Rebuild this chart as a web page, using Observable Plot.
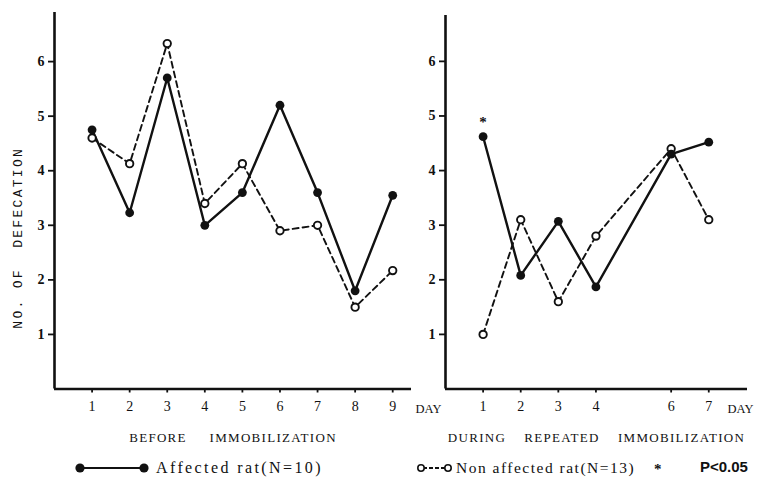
<!DOCTYPE html>
<html>
<head>
<meta charset="utf-8">
<script src="https://cdn.jsdelivr.net/npm/d3@7"></script>
<script src="https://cdn.jsdelivr.net/npm/@observablehq/plot@0.6"></script>
<style>
  body { margin: 0; background: #fff; }
  #chart { position: relative; width: 782px; height: 485px; overflow: hidden; background: #fff; }
  #chart > svg { position: absolute; overflow: visible; }
</style>
</head>
<body>
<div id="chart"></div>
<script>
// Daily defecation counts, before and during repeated immobilization
const beforeDays = [1, 2, 3, 4, 5, 6, 7, 8, 9];
const beforeAffected = [4.75, 3.23, 5.7, 3.0, 3.6, 5.2, 3.6, 1.8, 3.55];
const beforeNonAffected = [4.6, 4.13, 6.33, 3.4, 4.13, 2.9, 3.0, 1.5, 2.17];

const duringDays = [1, 2, 3, 4, 6, 7];
const duringAffected = [4.62, 2.08, 3.07, 1.87, 4.3, 4.52];
const duringNonAffected = [1.0, 3.1, 1.6, 2.8, 4.4, 3.1];
const duringSignificant = [1];

const yTicks = [1, 2, 3, 4, 5, 6];
const beforeTicks = [1, 2, 3, 4, 5, 6, 7, 8, 9];
const duringTicks = [1, 2, 3, 4, 6, 7];

const nb = n => "\u00a0".repeat(n);
const yTitle = "NO." + nb(1) + "OF" + nb(2) + "DEFECATION";
const beforeLabel = "BEFORE" + nb(5) + "IMMOBILIZATION";
const duringLabel = "DURING" + nb(4) + "REPEATED" + nb(4) + "IMMOBILIZATION";
const affectedName = "Affected rat(N=10)";
const nonAffectedName = "Non affected rat(N=13)";
const sigNote = "P<0.05";

const serif = "'Liberation Serif', 'DejaVu Serif', serif";
const mono = "'Liberation Mono', 'DejaVu Sans Mono', monospace";

function panel({days, affected, nonAffected, starDays, ticks, xMax, yMax,
                left, width, marginLeft, marginRight, marginTop,
                dayDx, groupLabel, showTitle}) {
  const rows = days.map((d, i) => ({day: d, affected: affected[i], non: nonAffected[i]}));
  const stars = rows.filter(r => starDays.includes(r.day));
  const marks = [
    Plot.axisX({ticks, tickSize: 4, tickPadding: 8, fontSize: 14, fontFamily: serif,
                tickFormat: d => String(d), label: null, strokeWidth: 1.8}),
    Plot.axisY({ticks: yTicks, tickSize: 6, tickPadding: 4, fontSize: 14, fontWeight: "bold",
                fontFamily: serif, tickFormat: d => String(d), label: null, strokeWidth: 1.8}),
    Plot.ruleX([0], {stroke: "#111", strokeWidth: 2.6}),
    Plot.ruleY([0], {stroke: "#111", strokeWidth: 2.6}),
    Plot.line(rows, {x: "day", y: "non", stroke: "#111", strokeWidth: 1.9, strokeDasharray: "6,4"}),
    Plot.line(rows, {x: "day", y: "affected", stroke: "#111", strokeWidth: 2.4}),
    Plot.dot(rows, {x: "day", y: "non", r: 3.7, fill: "white", stroke: "#111", strokeWidth: 1.9}),
    Plot.dot(rows, {x: "day", y: "affected", r: 4.4, fill: "#111"}),
    Plot.text(stars, {x: "day", y: "affected", text: () => "*", dy: -15, fontSize: 15,
                      fontWeight: "bold", fontFamily: serif}),
    Plot.text(["DAY"], {text: d => d, frameAnchor: "bottom-right", textAnchor: "start",
                        lineAnchor: "middle", dx: dayDx, dy: 20, fontSize: 12.5, fontFamily: serif}),
    Plot.text([groupLabel], {text: d => d, frameAnchor: "bottom", textAnchor: "middle",
                             lineAnchor: "middle", dy: 49, fontSize: 13, fontFamily: serif})
  ];
  if (showTitle) {
    marks.push(Plot.text([yTitle], {text: d => d, frameAnchor: "left", textAnchor: "middle",
                                    rotate: -90, lineAnchor: "middle", dx: -37, dy: 37,
                                    fontSize: 13, fontFamily: mono}));
  }
  const svg = Plot.plot({
    width, height: 450, marginLeft, marginRight, marginTop, marginBottom: 61.5,
    x: {domain: [0, xMax]},
    y: {domain: [0, yMax]},
    style: {background: "transparent", color: "#111", overflow: "visible"},
    marks
  });
  svg.style.left = left + "px";
  svg.style.top = "0px";
  d3.select(svg).selectAll("text")
    .filter(function () { return this.textContent === yTitle; })
    .attr("letter-spacing", "2.3px");
  d3.select(svg).selectAll("text")
    .filter(function () { return this.textContent === groupLabel; })
    .attr("letter-spacing", "1.3px");
  return svg;
}

const chart = document.getElementById("chart");

chart.appendChild(panel({
  days: beforeDays, affected: beforeAffected, nonAffected: beforeNonAffected, starDays: [],
  ticks: beforeTicks, xMax: 9.5, yMax: 6.9,
  left: 0, width: 450, marginLeft: 54, marginRight: 39, marginTop: 12,
  dayDx: 4, groupLabel: beforeLabel, showTitle: true
}));

chart.appendChild(panel({
  days: duringDays, affected: duringAffected, nonAffected: duringNonAffected, starDays: duringSignificant,
  ticks: duringTicks, xMax: 8.03, yMax: 6.84,
  left: 400, width: 382, marginLeft: 45, marginRight: 35, marginTop: 15,
  dayDx: -20, groupLabel: duringLabel, showTitle: false
}));

// Legend row below both panels
const legend = d3.create("svg")
  .attr("width", 782).attr("height", 35)
  .style("left", "0px").style("top", "450px")
  .attr("font-family", serif).attr("fill", "#111");

const ly = 18;
legend.append("line").attr("x1", 80).attr("x2", 144).attr("y1", ly).attr("y2", ly)
  .attr("stroke", "#111").attr("stroke-width", 2);
legend.selectAll("circle.a").data([80, 144]).join("circle")
  .attr("cx", d => d).attr("cy", ly).attr("r", 4.6).attr("fill", "#111");
legend.append("text").attr("x", 156).attr("y", ly + 5).attr("font-size", 16)
  .attr("letter-spacing", "2.4px").text(affectedName);

legend.append("line").attr("x1", 423).attr("x2", 446).attr("y1", ly).attr("y2", ly)
  .attr("stroke", "#111").attr("stroke-width", 1.8).attr("stroke-dasharray", "4,2");
legend.selectAll("circle.n").data([421, 448]).join("circle")
  .attr("cx", d => d).attr("cy", ly).attr("r", 3.2)
  .attr("fill", "white").attr("stroke", "#111").attr("stroke-width", 1.6);
legend.append("text").attr("x", 456).attr("y", ly + 5).attr("font-size", 15.5)
  .attr("letter-spacing", "1.5px").text(nonAffectedName);

legend.append("text").attr("x", 654).attr("y", ly + 6).attr("font-size", 15)
  .attr("font-weight", "bold").text("*");
legend.append("text").attr("x", 700).attr("y", ly + 4).attr("font-size", 15)
  .attr("font-family", "'Liberation Sans', 'DejaVu Sans', sans-serif")
  .attr("font-weight", "bold").text(sigNote);

chart.appendChild(legend.node());
</script>
</body>
</html>
